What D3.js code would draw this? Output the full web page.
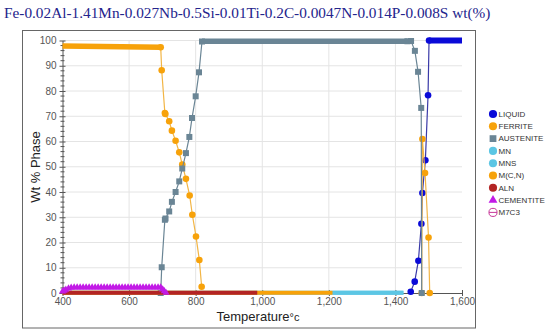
<!DOCTYPE html>
<html>
<head>
<meta charset="utf-8">
<script src="https://cdn.jsdelivr.net/npm/d3@7"></script>
<style>
  body { margin: 0; background: #fff; }
  svg { display: block; font-family: Arial, "Liberation Sans", sans-serif; }
  .axis text { font-size: 10px; fill: #555; }
  .axis line, .axis path { stroke: #555; }
  .grid line { stroke: #e4e4e4; }
</style>
</head>
<body>
<svg width="550" height="333"></svg>
<script>
const title = "Fe-0.02Al-1.41Mn-0.027Nb-0.5Si-0.01Ti-0.2C-0.0047N-0.014P-0.008S wt(%)";
const xTicks = [400, 600, 800, 1000, 1200, 1400, 1600];
const yTicks = [0, 10, 20, 30, 40, 50, 60, 70, 80, 90, 100];

// [temperature, wt% phase]
const liquid = [[1446, 0.5], [1458, 4.5], [1469, 12.8], [1478, 27.4], [1481, 39.6],
                [1490, 52.6], [1498, 78.3], [1501, 100]];
const liquidHold = [[1501, 100], [1600, 100]];

const ferriteLow = [[695, 97.3], [698, 88.2], [707.5, 71.3], [709, 70.9], [720.5, 68], [728.6, 64.3],
                    [739.7, 60.3], [750.7, 55.7], [759.7, 50.9], [770.8, 45.2], [782, 38.6],
                    [790, 31], [801, 22.4], [811, 13.1], [818, 2.5]];
const ferriteHold = [[400, 97.8], [695, 97.3]];
const ferriteHigh = [[1479, 0], [1481, 61], [1489, 47.5], [1499.5, 22], [1503, 0]];

const austeniteLow = [[695, 0], [698, 10.2], [707.5, 29], [709.5, 29.5], [720.5, 32.3], [728.6, 36.1],
                      [739.7, 40], [750.7, 44.2], [759.7, 49.3], [770.8, 55.4], [781, 61.8],
                      [789, 69.3], [800, 77.9], [810, 87.4], [819, 99.6]];
const austeniteHold = [[819, 99.7], [1436, 99.7]];
const austeniteHigh = [[1436, 99.7], [1447, 99.8], [1458.5, 95.9], [1468, 87.6], [1477.5, 73.3], [1479, 0]];

const mnHold = [[1211, 0.1], [1424, 0.1]];
const mnsHold = [[400, 0.1], [1424, 0.1]];
const mcnHold = [[400, 0.1], [1211, 0.1]];
const alnHold = [[400, 0.1], [985, 0.1]];

const cementite = [[400, 0.6], [405, 0.9], [410, 1.3], [418, 1.8], [426, 2.1], [435, 2.2], [444, 2.2],
                   [453, 2.2], [462, 2.2], [471, 2.2], [480, 2.2], [489, 2.2], [498, 2.2], [507, 2.2],
                   [516, 2.2], [525, 2.2], [534, 2.2], [543, 2.2], [552, 2.2], [561, 2.2], [570, 2.2],
                   [579, 2.2], [588, 2.2], [597, 2.2], [606, 2.2], [615, 2.2], [624, 2.2], [633, 2.2],
                   [642, 2.2], [651, 2.2], [660, 2.2], [669, 2.2], [678, 2.2], [687, 2.2], [695, 2.2],
                   [701, 1.4], [706, 0.7], [711, 0.1]];

const legendNames = ["LIQUID", "FERRITE", "AUSTENITE", "MN", "MNS", "M(C,N)", "ALN", "CEMENTITE", "M7C3"];
const legendColors = ["#0a0ad8", "#f7a20a", "#6a8595", "#5cc6e4", "#5cc6e4", "#f7a20a", "#b32424", "#c21ae6", "#c8399a"];
const legendShapes = ["circle", "circle", "square", "circle", "circle", "circle", "circle", "triangle", "open"];

const svg = d3.select("svg");
const x = d3.scaleLinear([400, 1600], [62.5, 462]);
const y = d3.scaleLinear([0, 100], [293, 40.5]);

// title and frame
svg.append("text")
   .attr("x", 4).attr("y", 18)
   .attr("font-family", "'Liberation Serif', 'Times New Roman', serif")
   .attr("font-size", 15.3)
   .attr("fill", "#24248c")
   .text(title);

svg.append("rect")
   .attr("x", 22.5).attr("y", 30.5)
   .attr("width", 453).attr("height", 297.5)
   .attr("fill", "none").attr("stroke", "#666");

// grid
const grid = svg.append("g").attr("class", "grid");
grid.selectAll(".h").data(yTicks.filter(d => d > 0)).join("line")
    .attr("x1", x(400)).attr("x2", x(1600))
    .attr("y1", d => y(d)).attr("y2", d => y(d));
grid.selectAll(".v").data(xTicks.filter(d => d > 400 && d < 1600)).join("line")
    .attr("x1", d => x(d)).attr("x2", d => x(d))
    .attr("y1", y(0)).attr("y2", y(100));

// axes
const yAxis = svg.append("g").attr("class", "axis")
    .attr("transform", `translate(${x(400)},0)`)
    .call(d3.axisLeft(y).tickValues(yTicks).tickSize(3).tickSizeOuter(0).tickPadding(3));
yAxis.selectAll(".tick line").attr("x2", 3).attr("x1", -3);
yAxis.selectAll(".minor").data(d3.range(2, 100, 2).filter(d => d % 10)).join("line")
    .attr("class", "minor")
    .attr("x1", -2).attr("x2", 2)
    .attr("y1", d => y(d)).attr("y2", d => y(d))
    .attr("stroke", "#555");

const xAxis = svg.append("g").attr("class", "axis")
    .attr("transform", `translate(0,${y(0)})`)
    .call(d3.axisBottom(x).tickValues(xTicks).tickSize(3).tickSizeOuter(0).tickPadding(2));
xAxis.selectAll(".tick line").attr("y1", -3);

svg.append("text")
   .attr("transform", "translate(40,167) rotate(-90)")
   .attr("text-anchor", "middle")
   .attr("font-size", 13).attr("fill", "#222")
   .text("Wt % Phase");

const xl = svg.append("text")
   .attr("x", 258).attr("y", 321)
   .attr("text-anchor", "middle")
   .attr("font-size", 13).attr("fill", "#222")
   .text("Temperature");
xl.append("tspan").attr("font-size", 11).text("°c");

// series
const line = d3.line().x(d => x(d[0])).y(d => y(d[1]));
const plot = svg.append("g");

function band(data, color, width) {
    plot.append("path").datum(data)
        .attr("d", line).attr("fill", "none")
        .attr("stroke", color).attr("stroke-width", width)
        .attr("stroke-linecap", "butt");
}

function series(data, lineColor, color, shape) {
    plot.append("path").datum(data)
        .attr("d", line).attr("fill", "none")
        .attr("stroke", lineColor).attr("stroke-width", 1.2);
    const sym = shape === "square" ? d3.symbolSquare : shape === "triangle" ? d3.symbolTriangle : d3.symbolCircle;
    const size = shape === "square" ? 36 : shape === "triangle" ? 22 : 34;
    plot.append("g").selectAll("path").data(data).join("path")
        .attr("transform", d => `translate(${x(d[0])},${y(d[1])})`)
        .attr("d", d3.symbol(sym, size))
        .attr("fill", color);
}

// liquid
band(liquidHold, "#0a0ad8", 6);
series(liquid, "#3a3aa8", "#0a0ad8", "circle");
// ferrite
band(ferriteHold, "#f7a20a", 5.5);
series(ferriteLow, "#f2b545", "#f7a20a", "circle");
series(ferriteHigh, "#f2b545", "#f7a20a", "circle");
// austenite
band(austeniteHold, "#6a8595", 5.5);
series(austeniteLow, "#6a8595", "#6a8595", "square");
series(austeniteHigh, "#6a8595", "#6a8595", "square");
// zero-level phases
band(mnHold, "#5cc6e4", 4);
band(mnsHold, "#5cc6e4", 4);
band(mcnHold, "#f7a20a", 4);
band(alnHold, "#b32424", 4);
// cementite
series(cementite, "#c21ae6", "#c21ae6", "triangle");

// legend
const legend = svg.append("g").attr("transform", "translate(493,114)");
const item = legend.selectAll("g").data(legendNames).join("g")
    .attr("transform", (d, i) => `translate(0,${i * 12.3})`);
item.append("path")
    .attr("d", (d, i) => {
        const s = legendShapes[i];
        if (s === "square") return d3.symbol(d3.symbolSquare, 46)();
        if (s === "triangle") return d3.symbol(d3.symbolTriangle, 34)();
        return d3.symbol(d3.symbolCircle, 52)();
    })
    .attr("fill", (d, i) => legendShapes[i] === "open" ? "none" : legendColors[i])
    .attr("stroke", (d, i) => legendShapes[i] === "open" ? legendColors[i] : "none");
item.filter((d, i) => legendShapes[i] === "open").append("line")
    .attr("x1", -4).attr("x2", 4)
    .attr("stroke", (d, i) => "#c8399a");
item.append("text")
    .attr("x", 5.5).attr("dy", "0.35em")
    .attr("font-size", 8).attr("fill", "#333")
    .text(d => d);
</script>
</body>
</html>
